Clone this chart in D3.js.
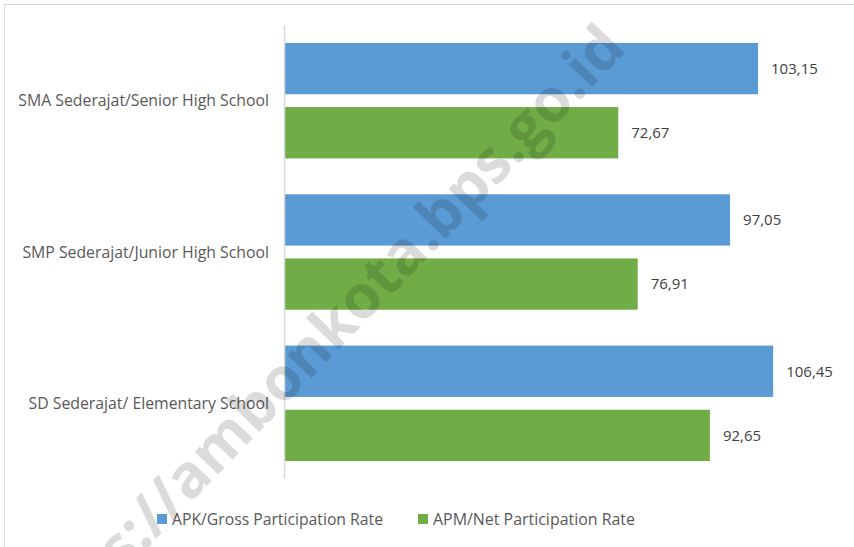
<!DOCTYPE html>
<html>
<head>
<meta charset="utf-8">
<script src="https://cdn.jsdelivr.net/npm/d3@7"></script>
<style>
  html, body { margin: 0; padding: 0; background: #fff; }
  svg { display: block; }
  text { font-family: "Open Sans", "Noto Sans", sans-serif; }
</style>
</head>
<body>
<svg id="chart" width="854" height="547"></svg>
<script>
const categories = [
  "SMA Sederajat/Senior High School",
  "SMP Sederajat/Junior High School",
  "SD Sederajat/ Elementary School"
];
const seriesNames = ["APK/Gross Participation Rate", "APM/Net Participation Rate"];
const apk = [103.15, 97.05, 106.45];
const apm = [72.67, 76.91, 92.65];
const colors = ["#5b9bd5", "#70ad47"];

const svg = d3.select("#chart");
const W = 854, H = 547;

// outer frame
svg.append("rect")
  .attr("x", 4.5).attr("y", 4.5)
  .attr("width", W + 10).attr("height", H + 10)
  .attr("fill", "none").attr("stroke", "#d9d9d9").attr("stroke-width", 1);

const x0 = 285;
const x = d3.scaleLinear().domain([0, 100]).range([x0, x0 + 458.6]);
const y = d3.scaleBand().domain(categories).range([25, 479]).paddingInner(0).paddingOuter(0);
const inner = d3.scaleBand().domain(seriesNames).range([0, y.bandwidth()]).paddingInner(0.2).paddingOuter(0.28);

const data = categories.map((c, i) => ({ c, vals: [apk[i], apm[i]] }));
const fmt = d3.formatLocale({ decimal: ",", thousands: ".", grouping: [3], currency: ["", ""] }).format(".2f");

const g = svg.append("g");
const groups = g.selectAll("g.cat").data(data).join("g")
  .attr("transform", d => `translate(0,${y(d.c)})`);

groups.selectAll("rect").data(d => d.vals.map((v, k) => ({ v, k })))
  .join("rect")
  .attr("x", x(0))
  .attr("y", d => inner(seriesNames[d.k]))
  .attr("width", d => x(d.v) - x(0))
  .attr("height", inner.bandwidth())
  .attr("fill", d => colors[d.k]);

groups.selectAll("text.val").data(d => d.vals.map((v, k) => ({ v, k })))
  .join("text")
  .attr("class", "val")
  .attr("x", d => x(d.v) + 13)
  .attr("y", d => inner(seriesNames[d.k]) + inner.bandwidth() / 2)
  .attr("dy", "0.35em")
  .attr("font-size", 15)
  .attr("fill", "#404040")
  .text(d => fmt(d.v));

// category labels
g.selectAll("text.cat").data(categories).join("text")
  .attr("class", "cat")
  .attr("x", x0 - 16)
  .attr("y", d => y(d) + y.bandwidth() / 2)
  .attr("dy", "0.35em")
  .attr("text-anchor", "end")
  .attr("font-size", 15.8)
  .attr("fill", "#595959")
  .text(d => d);

// axis line
svg.append("line")
  .attr("x1", x0 - 0.5).attr("x2", x0 - 0.5)
  .attr("y1", y.range()[0]).attr("y2", y.range()[1])
  .attr("stroke", "#d9d9d9").attr("stroke-width", 1.5);

// legend
const legendX = [157, 418];
const legendW = [211, 202];
const lg = svg.append("g");
seriesNames.forEach((s, k) => {
  lg.append("rect").attr("x", legendX[k]).attr("y", 514).attr("width", 10).attr("height", 10).attr("fill", colors[k]);
  lg.append("text").attr("x", legendX[k] + 15).attr("y", 519).attr("dy", "0.35em")
    .attr("font-size", 17).attr("fill", "#595959")
    .attr("textLength", legendW[k]).attr("lengthAdjust", "spacingAndGlyphs")
    .text(s);
});

// watermark
svg.append("text")
  .attr("transform", "translate(628,50) rotate(-46)")
  .attr("text-anchor", "end")
  .attr("font-size", 60)
  .attr("font-weight", "bold")
  .attr("fill", "#000")
  .attr("fill-opacity", 0.14)
  .text("https://ambonkota.bps.go.id");
</script>
</body>
</html>
